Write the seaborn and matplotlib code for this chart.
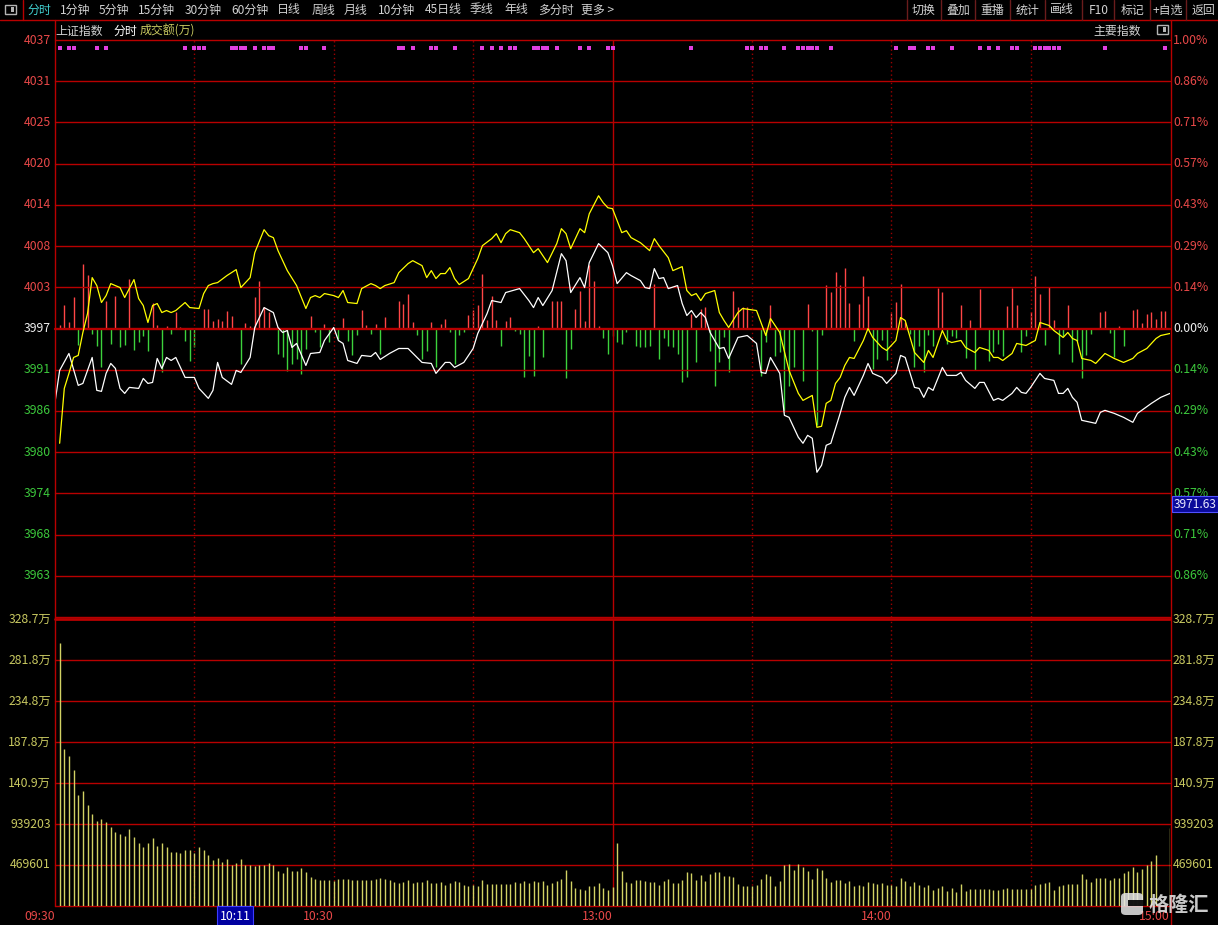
import matplotlib
matplotlib.use("Agg")
import matplotlib.pyplot as plt
from matplotlib.lines import Line2D
from matplotlib.patches import Rectangle, FancyBboxPatch
import seaborn as sns

# ---- data ----
prev_close = 3997.0
vol_step = 469601

price_labels = ["4037", "4031", "4025", "4020", "4014", "4008", "4003", "3997",
                "3991", "3986", "3980", "3974", "3968", "3963"]
pct_labels = ["1.00%", "0.86%", "0.71%", "0.57%", "0.43%", "0.29%", "0.14%", "0.00%",
              "0.14%", "0.29%", "0.43%", "0.57%", "0.71%", "0.86%"]
vol_labels = ["328.7万", "281.8万", "234.8万", "187.8万", "140.9万", "939203", "469601"]

time_ticks = [0, 60, 120, 180, 240]
time_labels = ["09:30", "10:30", "13:00", "14:00", "15:00"]

# index (white line), minute -> price
white_min = [0, 1, 3, 5, 6, 7, 8, 9, 10, 11, 12, 13, 14, 15, 16, 18, 19, 20, 21, 22,
             23, 24, 25, 26, 28, 30, 31, 33, 34, 35, 36, 38, 39, 40, 42, 43, 45, 47, 48, 49,
             50, 51, 52, 54, 55, 57, 58, 60, 61, 62, 63, 65, 66, 68, 69, 70, 72, 74, 76, 79,
             81, 82, 84, 85, 86, 88, 90, 91, 93, 94, 96, 97, 100, 102, 103, 104, 105, 107, 109, 110,
             111, 113, 114, 115, 117, 119, 120, 121, 123, 124, 126, 127, 128, 129, 130, 131, 132, 134, 135, 136,
             137, 138, 139, 140, 141, 143, 144, 145, 147, 149, 151, 152, 153, 154, 156, 157, 158, 160, 161, 162,
             163, 164, 165, 166, 167, 168, 169, 170, 171, 172, 174, 175, 176, 178, 179, 181, 182, 183, 185, 186,
             187, 188, 189, 191, 192, 194, 195, 196, 198, 199, 200, 202, 203, 204, 206, 207, 208, 209, 210, 212,
             213, 215, 216, 217, 218, 219, 220, 221, 223, 224, 225, 226, 228, 230, 232, 233, 236, 238, 240]
white_px = [3986.77, 3991.19, 3993.54, 3989.12, 3989.39, 3991.19, 3992.99, 3988.43, 3988.29, 3990.78,
            3992.16, 3991.47, 3988.70, 3988.01, 3988.84, 3988.70, 3990.08, 3989.39, 3989.53, 3992.85,
            3991.47, 3992.99, 3992.57, 3992.99, 3990.22, 3990.22, 3988.70, 3987.32, 3988.43, 3992.30,
            3990.22, 3989.26, 3991.19, 3990.91, 3992.99, 3997.14, 3999.90, 3999.21, 3997.14, 3996.45,
            3996.72, 3994.37, 3994.93, 3991.88, 3993.54, 3993.68, 3995.34, 3997.14, 3995.34, 3994.93,
            3992.57, 3992.16, 3993.27, 3993.13, 3993.68, 3992.71, 3993.54, 3994.23, 3994.23, 3992.30,
            3992.16, 3990.78, 3992.30, 3992.30, 3991.61, 3992.30, 3994.23, 3996.31, 3999.07, 4000.87,
            4000.60, 4001.98, 4002.53, 4000.87, 3999.90, 4001.29, 4000.18, 4002.26, 4007.37, 4006.40,
            4001.98, 4004.05, 4002.67, 4006.13, 4008.76, 4007.51, 4005.71, 4003.22, 4004.74, 4004.33,
            4003.64, 4002.67, 4002.53, 4005.30, 4003.92, 4004.05, 4002.53, 4002.95, 4000.46, 3998.80,
            3999.49, 3998.52, 3999.21, 3998.52, 3996.45, 3994.23, 3994.37, 3992.85, 3995.76, 3996.03,
            3994.93, 3990.91, 3990.78, 3992.99, 3990.78, 3984.97, 3984.69, 3981.93, 3981.10, 3982.20,
            3981.79, 3977.08, 3978.05, 3980.82, 3981.10, 3983.17, 3985.24, 3987.46, 3988.84, 3987.73,
            3990.50, 3992.16, 3990.78, 3990.22, 3989.39, 3990.78, 3993.27, 3992.99, 3988.84, 3988.70,
            3987.46, 3988.84, 3988.43, 3991.61, 3990.50, 3990.50, 3990.91, 3989.81, 3988.70, 3989.53,
            3989.53, 3987.04, 3987.32, 3987.04, 3988.01, 3988.84, 3988.15, 3988.01, 3988.84, 3990.78,
            3990.08, 3989.81, 3988.01, 3988.01, 3988.70, 3987.46, 3986.77, 3984.28, 3984.00, 3983.86,
            3985.38, 3985.66, 3985.24, 3984.69, 3984.00, 3985.24, 3986.63, 3987.46, 3988.01]

# leading index (yellow line)
yellow_min = [1, 2, 3, 4, 5, 6, 7, 8, 9, 10, 11, 12, 13, 14, 15, 17, 18, 19, 20, 21,
              22, 23, 24, 25, 26, 28, 29, 31, 32, 33, 34, 35, 37, 39, 40, 42, 43, 45, 46, 47,
              48, 50, 52, 54, 55, 56, 57, 58, 60, 61, 62, 63, 65, 66, 68, 69, 70, 71, 73, 74,
              76, 77, 79, 80, 81, 82, 83, 84, 85, 86, 87, 89, 90, 91, 92, 94, 95, 96, 97, 98,
              100, 101, 103, 104, 106, 108, 109, 110, 111, 112, 113, 114, 115, 117, 118, 119, 120, 122, 123, 124,
              126, 128, 129, 130, 132, 133, 135, 136, 137, 138, 139, 140, 142, 143, 144, 145, 147, 148, 151, 153,
              154, 156, 158, 160, 161, 163, 164, 165, 166, 167, 168, 169, 170, 171, 172, 174, 175, 176, 178, 179,
              181, 182, 183, 185, 187, 188, 189, 191, 192, 193, 195, 196, 198, 199, 201, 202, 203, 204, 206, 207,
              209, 211, 212, 214, 215, 217, 218, 219, 220, 221, 223, 224, 226, 228, 229, 230, 232, 233, 235, 237,
              238, 240]
yellow_px = [3981.10, 3988.70, 3990.78, 3992.99, 3993.27, 3996.45, 3999.07, 4004.05, 4002.95, 4000.60,
             4001.56, 4003.22, 4002.95, 4002.67, 4001.29, 4003.78, 4001.15, 4000.18, 3997.83, 4000.18,
             4000.46, 3999.21, 3999.49, 3999.21, 3999.49, 4000.60, 3999.90, 3999.77, 4001.84, 4002.95,
             4003.22, 4003.36, 4004.33, 4005.16, 4002.67, 4004.05, 4007.51, 4010.69, 4009.86, 4009.59,
             4007.79, 4005.02, 4002.95, 3999.77, 4001.29, 4001.56, 4001.29, 4001.84, 4001.56, 4001.29,
             4002.26, 4000.60, 4000.46, 4002.53, 4003.22, 4002.95, 4002.53, 4002.95, 4003.36, 4004.74,
             4005.99, 4006.40, 4005.71, 4004.05, 4005.02, 4003.92, 4004.61, 4004.61, 4005.44, 4003.92,
             4003.09, 4003.92, 4005.30, 4006.68, 4008.48, 4009.45, 4010.14, 4008.89, 4010.14, 4010.69,
             4010.28, 4009.45, 4007.51, 4008.06, 4006.13, 4008.76, 4010.83, 4010.14, 4008.06, 4009.45,
             4010.83, 4010.28, 4012.90, 4015.39, 4014.43, 4013.73, 4013.60, 4010.28, 4010.55, 4009.59,
             4008.89, 4007.79, 4009.45, 4008.48, 4006.82, 4005.02, 4005.57, 4002.26, 4001.56, 4001.84,
             4000.87, 4001.84, 4002.26, 3999.21, 3998.11, 3997.14, 3999.21, 3999.77, 3999.49, 3996.03,
             3998.38, 3996.45, 3991.19, 3988.01, 3987.04, 3987.73, 3983.31, 3983.45, 3986.63, 3987.04,
             3989.39, 3990.22, 3991.88, 3992.99, 3992.85, 3995.34, 3997.00, 3995.76, 3994.37, 3993.96,
             3995.34, 3998.52, 3998.11, 3993.68, 3992.30, 3993.96, 3992.99, 3996.72, 3995.34, 3995.06,
             3995.34, 3994.37, 3993.68, 3994.37, 3993.96, 3992.99, 3992.99, 3992.57, 3993.54, 3994.93,
             3994.65, 3995.34, 3997.83, 3997.41, 3996.72, 3995.76, 3996.45, 3995.62, 3995.34, 3992.85,
             3992.57, 3992.16, 3993.54, 3992.85, 3992.57, 3992.30, 3992.85, 3993.54, 3994.23, 3995.62,
             3996.03, 3996.31]

# red / green strength bars
up_min = [1, 2, 3, 4, 6, 7, 11, 13, 16, 21, 22, 24, 26, 27, 32, 33, 34, 35, 36, 37,
          38, 41, 42, 43, 44, 45, 46, 55, 58, 62, 66, 67, 69, 71, 74, 75, 76, 77, 81, 83,
          84, 89, 90, 91, 92, 93, 94, 95, 97, 98, 104, 107, 108, 109, 112, 113, 114, 115, 116, 117,
          129, 137, 139, 140, 146, 147, 148, 149, 154, 162, 166, 167, 168, 169, 170, 171, 173, 174, 175, 180,
          181, 182, 183, 190, 191, 195, 197, 199, 205, 206, 207, 210, 211, 212, 214, 215, 218, 225, 226, 229,
          232, 233, 234, 235, 236, 237, 238, 239]
up_val = [4, 24, 7, 32, 65, 54, 28, 33, 50, 26, 4, 3, 17, 2, 20, 20, 8, 10, 8, 18,
          13, 6, 3, 32, 48, 22, 17, 13, 5, 11, 19, 4, 5, 12, 28, 25, 35, 7, 7, 5,
          10, 14, 19, 24, 55, 9, 33, 9, 8, 12, 3, 28, 28, 28, 20, 38, 8, 64, 48, 3,
          45, 15, 20, 22, 38, 22, 22, 22, 24, 25, 44, 37, 57, 44, 61, 26, 25, 53, 33, 16,
          27, 45, 7, 41, 37, 24, 9, 40, 23, 41, 24, 17, 53, 35, 42, 9, 24, 17, 18, 3,
          19, 20, 6, 15, 17, 10, 18, 18]
dn_min = [5, 8, 9, 10, 12, 14, 15, 17, 18, 19, 20, 23, 25, 28, 29, 30, 40, 48, 49, 50,
          51, 52, 53, 54, 56, 57, 59, 61, 63, 64, 65, 68, 70, 78, 79, 80, 82, 85, 86, 87,
          88, 96, 99, 100, 101, 102, 103, 105, 110, 111, 118, 119, 120, 121, 122, 123, 125, 126, 127, 128,
          130, 131, 132, 133, 134, 135, 136, 138, 141, 142, 143, 144, 145, 152, 153, 155, 156, 157, 158, 159,
          161, 163, 164, 165, 172, 176, 177, 178, 179, 184, 185, 186, 187, 188, 189, 192, 193, 194, 196, 198,
          201, 202, 203, 204, 208, 209, 213, 216, 217, 219, 220, 221, 222, 223, 227, 228, 230]
dn_val = [16, 5, 17, 38, 15, 18, 16, 21, 13, 7, 22, 43, 5, 12, 32, 18, 35, 25, 28, 42,
          35, 30, 45, 20, 3, 18, 13, 10, 12, 26, 6, 5, 25, 6, 30, 22, 38, 3, 35, 6,
          3, 17, 2, 5, 48, 27, 47, 28, 49, 20, 9, 25, 7, 13, 15, 3, 17, 18, 18, 17,
          30, 9, 17, 18, 25, 53, 48, 33, 22, 57, 33, 8, 43, 47, 13, 27, 23, 83, 57, 38,
          52, 2, 96, 6, 12, 40, 30, 11, 31, 5, 38, 17, 43, 6, 17, 15, 7, 9, 29, 41,
          32, 23, 15, 27, 23, 7, 16, 25, 7, 33, 12, 49, 26, 5, 4, 28, 17]

# turnover per minute, minutes 1..240
vol = [3008000, 1801000, 1714000, 1561000, 1268000, 1314000, 1161000, 1059000, 971000, 1002000,
       963000, 906000, 845000, 830000, 800000, 887000, 792000, 724000, 674000, 716000,
       781000, 685000, 724000, 678000, 617000, 617000, 602000, 647000, 647000, 602000,
       678000, 640000, 579000, 526000, 545000, 503000, 533000, 468000, 487000, 533000,
       468000, 468000, 457000, 468000, 468000, 487000, 468000, 400000, 373000, 446000,
       400000, 400000, 432000, 387000, 331000, 308000, 301000, 301000, 301000, 282000,
       308000, 308000, 308000, 301000, 301000, 293000, 301000, 293000, 308000, 319000,
       308000, 293000, 271000, 263000, 271000, 301000, 263000, 271000, 271000, 293000,
       263000, 263000, 271000, 244000, 263000, 282000, 271000, 244000, 233000, 244000,
       225000, 293000, 255000, 255000, 255000, 255000, 255000, 255000, 271000, 263000,
       282000, 263000, 282000, 271000, 282000, 244000, 263000, 282000, 308000, 413000,
       282000, 207000, 195000, 188000, 233000, 233000, 263000, 207000, 188000, 218000,
       721000, 402000, 271000, 263000, 301000, 301000, 282000, 271000, 271000, 237000,
       289000, 308000, 263000, 263000, 301000, 387000, 376000, 301000, 357000, 289000,
       368000, 394000, 394000, 338000, 346000, 331000, 255000, 233000, 233000, 233000,
       244000, 308000, 368000, 346000, 225000, 282000, 470000, 481000, 413000, 481000,
       451000, 406000, 308000, 432000, 413000, 319000, 271000, 293000, 301000, 263000,
       282000, 225000, 244000, 225000, 271000, 263000, 255000, 263000, 244000, 244000,
       233000, 319000, 282000, 225000, 271000, 244000, 218000, 244000, 188000, 207000,
       233000, 169000, 207000, 158000, 252000, 169000, 195000, 195000, 195000, 195000,
       195000, 188000, 188000, 195000, 207000, 195000, 195000, 195000, 195000, 195000,
       244000, 255000, 263000, 271000, 188000, 233000, 244000, 255000, 255000, 255000,
       368000, 308000, 274000, 319000, 319000, 319000, 293000, 319000, 319000, 378000,
       401000, 447000, 389000, 424000, 470000, 515000, 584000, 0, 0, 893000]
vol_min = list(range(1, 241))

# magenta signal marks along the top
signal_min = [1, 3, 4, 9, 11, 28, 30, 31, 32, 38, 39, 40, 41, 43, 45, 46, 47, 53, 54, 58,
              74, 75, 77, 81, 82, 86, 92, 94, 96, 98, 99, 103, 104, 105, 106, 108, 113, 115, 119, 120,
              137, 149, 150, 152, 153, 157, 160, 161, 162, 163, 164, 167, 181, 184, 185, 188, 189, 193, 199, 201,
              203, 206, 207, 211, 212, 213, 214, 215, 216, 226, 239]

toolbar_left = [("分时", 28), ("1分钟", 60), ("5分钟", 99), ("15分钟", 138), ("30分钟", 185),
                ("60分钟", 231), ("日线", 277), ("周线", 312), ("月线", 344), ("10分钟", 378),
                ("45日线", 425), ("季线", 470), ("年线", 504), ("多分时", 538), ("更多 >", 581)]
toolbar_right = [("切换", 912), ("叠加", 946), ("重播", 980), ("统计", 1016), ("画线", 1050),
                 ("F10", 1089), ("标记", 1121), ("+自选", 1153), ("返回", 1192)]
toolbar_seps = [907, 941, 975, 1010, 1045, 1082, 1114, 1150, 1186]

# ---- style ----
W, H = 1218, 925
GRID = "#b80000"
DOT = "#9a0000"
RED_T = "#e84848"
GRN_T = "#3cc83c"
YEL_T = "#c8c860"
GRAY_T = "#d2d2d2"

sns.set_theme(style="dark", rc={"figure.facecolor": "black", "axes.facecolor": "black",
                                "savefig.facecolor": "black"})
plt.rcParams["font.family"] = ["Noto Sans CJK SC", "DejaVu Sans"]
plt.rcParams["axes.unicode_minus"] = False


def fx(x):
    return x / W


def fy(y):
    return 1 - y / H


fig = plt.figure(figsize=(W / 100, H / 100), dpi=100)
fig.patch.set_facecolor("black")

rect_p = [fx(55), fy(617), 1115 / W, 577 / H]
rect_v = [fx(55), fy(906), 1115 / W, 287 / H]
ax_f = fig.add_axes(rect_p, label="flow")
ax_p = fig.add_axes(rect_p, label="price")
ax_v = fig.add_axes(rect_v, label="vol")
for a in (ax_f, ax_p, ax_v):
    a.set_facecolor("none")
    a.set_xlim(0, 240)

lo, hi = prev_close * 0.99, prev_close * 1.01

# strength bars (drawn underneath)
ax_f.vlines(up_min, 0, up_val, color="#ff4646", lw=1.0)
ax_f.vlines(dn_min, 0, [-v for v in dn_val], color="#3cd23c", lw=1.0)
ax_f.set_ylim(-288.5, 288.5)

# price grid
for k in range(-7, 8):
    lvl = prev_close * (1 + k * 0.01 / 7)
    ax_p.axhline(lvl, color=GRID, lw=1.7 if k == 0 else 1.0, clip_on=False, zorder=1)
for m in [30, 60, 90, 150, 180, 210]:
    ax_p.axvline(m, color=DOT, lw=1.0, ls=(0, (1, 2)), zorder=1)
    ax_v.axvline(m, color=DOT, lw=1.0, ls=(0, (1, 2)), zorder=1)
ax_p.axvline(120, color=GRID, lw=1.0, zorder=1)
ax_v.axvline(120, color=GRID, lw=1.0, zorder=1)

sns.lineplot(x=white_min, y=white_px, ax=ax_p, color="white", lw=0.9, estimator=None, sort=False, zorder=3)
sns.lineplot(x=yellow_min, y=yellow_px, ax=ax_p, color="#ffff00", lw=0.9, estimator=None, sort=False, zorder=4)
ax_p.scatter(signal_min, [0.986] * len(signal_min), transform=ax_p.get_xaxis_transform(),
             marker="s", s=6, c="#e040e0", linewidths=0, clip_on=False, zorder=5)
ax_p.set_xlim(0, 240)
ax_p.set_ylim(lo, hi)

for i, lab in enumerate(price_labels):
    k = 7 - i
    lvl = prev_close * (1 + k * 0.01 / 7)
    col = RED_T if k > 0 else ("#f0f0f0" if k == 0 else GRN_T)
    ax_p.annotate(lab, xy=(0, lvl), xycoords=("axes fraction", "data"), xytext=(-4, 0),
                  textcoords="offset pixels", ha="right", va="center", color=col, fontsize=8.8)
    ax_p.annotate(pct_labels[i], xy=(1, lvl), xycoords=("axes fraction", "data"), xytext=(3, 0),
                  textcoords="offset pixels", ha="left", va="center", color=col, fontsize=8.8)

# volume
ax_v.vlines(vol_min, 0, vol, color="#d2d264", lw=1.0, zorder=3)
for k in range(0, 8):
    ax_v.axhline(k * vol_step, color=GRID, lw=2.0 if k == 7 else 1.0, clip_on=False, zorder=1)
ax_v.set_ylim(0, 7 * vol_step)
for i, lab in enumerate(vol_labels):
    lvl = (7 - i) * vol_step
    ax_v.annotate(lab, xy=(0, lvl), xycoords=("axes fraction", "data"), xytext=(-4, 0),
                  textcoords="offset pixels", ha="right", va="center", color=YEL_T, fontsize=8.8)
    ax_v.annotate(lab, xy=(1, lvl), xycoords=("axes fraction", "data"), xytext=(3, 0),
                  textcoords="offset pixels", ha="left", va="center", color=YEL_T, fontsize=8.8)
for m, lab in zip(time_ticks, time_labels):
    ax_v.annotate(lab, xy=(m, 0), xycoords=("data", "axes fraction"), xytext=(0, -10),
                  textcoords="offset pixels", ha="right", va="center", color=RED_T, fontsize=8.8)

for a in (ax_f, ax_p, ax_v):
    a.set_xlabel("")
    a.set_ylabel("")
    a.set_xticks([])
    a.set_yticks([])
    for s in a.spines.values():
        s.set_visible(False)

# ---- frame lines ----
def fline(xs, ys, **kw):
    fig.add_artist(Line2D([fx(x) for x in xs], [fy(y) for y in ys], **kw))


fline([0, W], [19.5, 19.5], color=GRID, lw=1.0)
fline([55, 55], [19.5, 906], color=GRID, lw=1.0)
fline([1170.5, 1170.5], [19.5, 925], color=GRID, lw=1.0)
fline([22.5, 22.5], [0, 19.5], color=GRID, lw=1.0)
for sx in toolbar_seps:
    fline([sx, sx], [0, 19.5], color="#6a1c1c", lw=1.0)

# ---- toolbar / header text ----
for lab, x in toolbar_left:
    fig.text(fx(x), fy(10), lab, ha="left", va="center", fontsize=8.6,
             color="#40d0d0" if lab == "分时" else GRAY_T)
for lab, x in toolbar_right:
    fig.text(fx(x), fy(10), lab, ha="left", va="center", fontsize=8.6, color=GRAY_T)
fig.text(fx(55), fy(31), "上证指数", ha="left", va="center", fontsize=8.6, color=GRAY_T)
fig.text(fx(113), fy(31), "分时", ha="left", va="center", fontsize=8.6, color="white")
fig.text(fx(140), fy(31), "成交额(万)", ha="left", va="center", fontsize=8.6, color=YEL_T)
fig.text(fx(1093), fy(31), "主要指数", ha="left", va="center", fontsize=8.6, color=GRAY_T)

for (ix, iy) in [(5, 5), (1157, 25)]:
    fig.add_artist(Rectangle((fx(ix), fy(iy + 9)), 11 / W, 9 / H, transform=fig.transFigure,
                             fill=False, ec="#b4b4b4", lw=1.0))
    fig.add_artist(Rectangle((fx(ix + 6), fy(iy + 7)), 3 / W, 5 / H, transform=fig.transFigure,
                             fc="#b4b4b4", ec="none"))

# crosshair tags
fig.text(fx(235), fy(916), "10:11", ha="center", va="center", fontsize=8.8, color="white",
         bbox=dict(boxstyle="square,pad=0.25", fc="#0000a0", ec="#3c3cff", lw=0.8))
fig.text(fx(1195), fy(504), "3971.63", ha="center", va="center", fontsize=8.6, color="#e8e8ff",
         bbox=dict(boxstyle="square,pad=0.12", fc="#0a0a9a", ec="#5050ff", lw=0.8))

# watermark
fig.add_artist(FancyBboxPatch((fx(1121), fy(915)), 22 / W, 22 / H, transform=fig.transFigure,
                              boxstyle="round,pad=0,rounding_size=0.004", fc="#e6e6e6", ec="none", alpha=0.85))
fig.add_artist(Rectangle((fx(1128), fy(906)), 16 / W, 6 / H, transform=fig.transFigure,
                         fc="black", ec="none", alpha=0.9))
fig.text(fx(1149), fy(904), "格隆汇", ha="left", va="center", fontsize=14.5, color="#e6e6e6",
         alpha=0.88, fontweight="bold")

fig.savefig("out.png", dpi=100, facecolor="black")
